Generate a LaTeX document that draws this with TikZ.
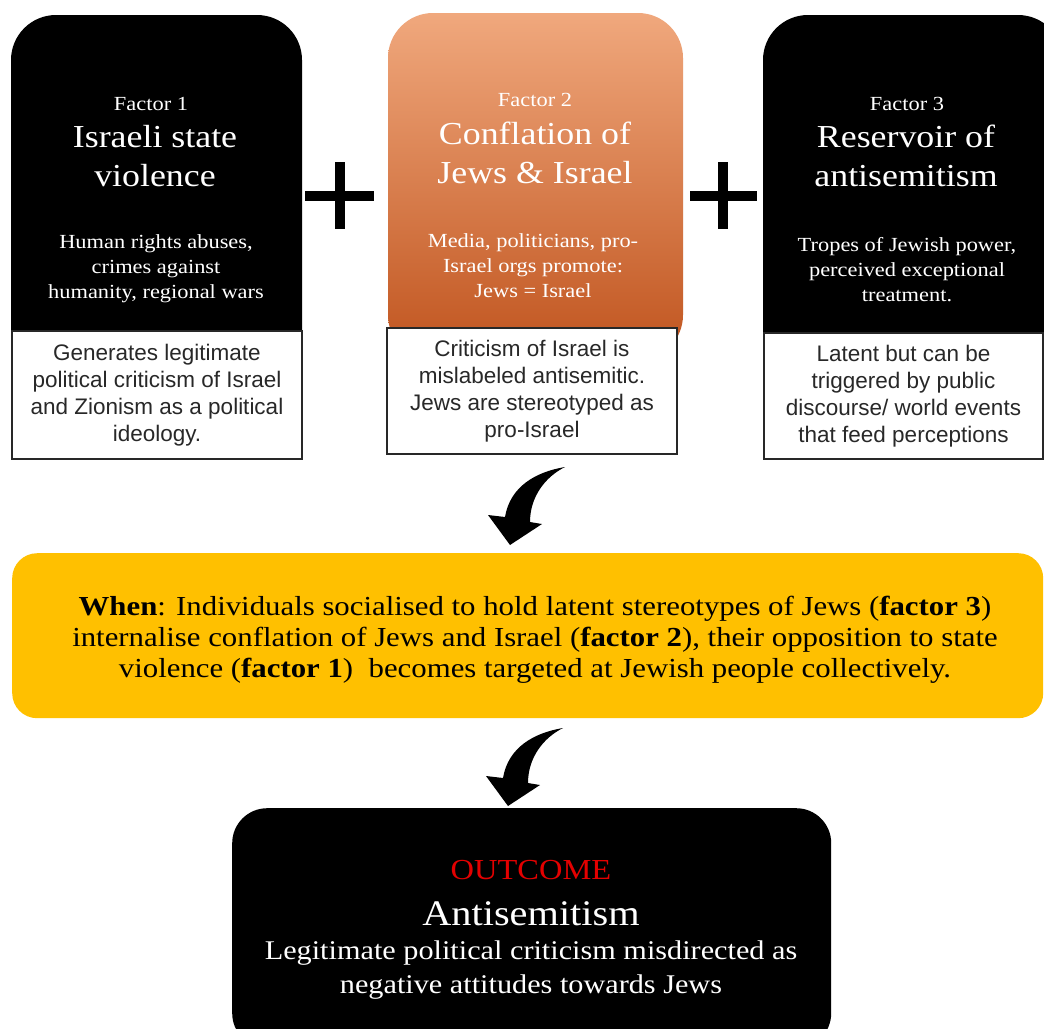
\documentclass[tikz,border=0pt]{standalone}
\usepackage{fontspec}
\setmainfont{Liberation Serif}[FakeStretch=1.12]
\newfontfamily\notefont{Liberation Sans}
\definecolor{ylw}{RGB}{255,192,0}
\definecolor{orTop}{RGB}{240,168,125}
\definecolor{orMid}{RGB}{232,122,62}
\definecolor{orBot}{RGB}{192,84,30}
\definecolor{outred}{RGB}{228,0,0}
\definecolor{notegray}{RGB}{40,40,40}
\begin{document}
\begin{tikzpicture}[x=1pt,y=-1pt,
  panel/.style={rounded corners=45, anchor=north west, inner sep=0, outer sep=0},
  labtxt/.style={text=white, align=center, inner sep=0, font=\fontsize{20}{24}\selectfont},
  ttltxt/.style={text=white, align=center, inner sep=0, font=\fontsize{32}{39}\selectfont},
  subtxt/.style={text=white, align=center, inner sep=0, font=\fontsize{20}{25}\selectfont},
  notebox/.style={draw=notegray, line width=2pt, fill=white, anchor=north west, inner sep=0, align=center, text=notegray, font=\notefont\fontsize{22.5}{27}\selectfont},
  plusbar/.style={line width=9.5pt, black},
  curvearrow/.pic={\fill[black] (0,0) .. controls (-30,5) and (-55,20) .. (-60,50) -- (-77,48) -- (-55,78) -- (-23,57) -- (-35,55) .. controls (-35,30) and (-20,10) .. (0,0) -- cycle;}
]
\clip (0,0) rectangle (1044,1028);
\fill[white] (0,0) rectangle (1044,1028);

% ---------- Factor panels ----------
\node[panel, fill=black, minimum width=291, minimum height=443] (p1) at (11,15) {};
\node[panel, top color=orTop, middle color=orMid, bottom color=orBot, minimum width=295, minimum height=347] (p2) at (388,13) {};
\node[panel, fill=black, minimum width=300, minimum height=443] (p3) at (763,15) {};

\node[labtxt] (f1lab) at (151,104) {Factor 1};
\node[ttltxt] (f1ttl) at (155,156) {Israeli state\\violence};
\node[subtxt] (f1sub) at (156,269) {Human rights abuses,\\crimes against\\humanity, regional wars};

\node[labtxt] (f2lab) at (535,100) {Factor 2};
\node[ttltxt] (f2ttl) at (535,153) {Conflation of\\Jews \& Israel};
\node[subtxt] (f2sub) at (533,266) {Media, politicians, pro-\\Israel orgs promote:\\Jews = Israel};

\node[labtxt] (f3lab) at (907,104) {Factor 3};
\node[ttltxt] (f3ttl) at (906,156) {Reservoir of\\antisemitism};
\node[subtxt] (f3sub) at (907,270) {Tropes of Jewish power,\\perceived exceptional\\treatment.};

\node[notebox, minimum width=290, minimum height=128] (n1) at (11,330) {Generates legitimate\\political criticism of Israel\\and Zionism as a political\\ideology.};
\node[notebox, minimum width=290, minimum height=126] (n2) at (386,327) {Criticism of Israel is\\mislabeled antisemitic.\\Jews are stereotyped as\\pro-Israel};
\node[notebox, minimum width=279, minimum height=126] (n3) at (763,332) {Latent but can be\\triggered by public\\discourse/ world events\\that feed perceptions};

% ---------- plus signs ----------
\draw[plusbar] (305,196) -- (374,196);
\draw[plusbar] (340,162) -- (340,229);
\draw[plusbar] (690,196) -- (757,196);
\draw[plusbar] (723,162) -- (723,229);

% ---------- condition box ----------
\node[rounded corners=25, fill=ylw, anchor=north west, minimum width=1031, minimum height=165, inner sep=0] (when) at (12,553) {};
\node[align=center, inner sep=0, font=\fontsize{27.5}{31}\selectfont] (whentxt) at (535,640)
  {\textbf{When}: Individuals socialised to hold latent stereotypes of Jews (\textbf{factor 3})\\
   internalise conflation of Jews and Israel (\textbf{factor 2}), their opposition to state\\
   violence (\textbf{factor 1})\ \ becomes targeted at Jewish people collectively.};

% ---------- outcome box ----------
\node[rounded corners=35, fill=black, anchor=north west, minimum width=599, minimum height=240, inner sep=0] (out) at (232,808) {};
\node[text=outred, inner sep=0, font=\fontsize{29}{32}\selectfont] (outlab) at (531,870) {OUTCOME};
\node[text=white, inner sep=0, font=\fontsize{36}{40}\selectfont] (outttl) at (531,914) {Antisemitism};
\node[text=white, align=center, inner sep=0, font=\fontsize{27}{34}\selectfont] (outsub) at (531,970) {Legitimate political criticism misdirected as\\negative attitudes towards Jews};

% ---------- curved arrows ----------
\coordinate (a1) at (565,467);
\coordinate (a2) at (563,728);
\pic at (a1) {curvearrow};
\pic at (a2) {curvearrow};
\end{tikzpicture}
\end{document}
